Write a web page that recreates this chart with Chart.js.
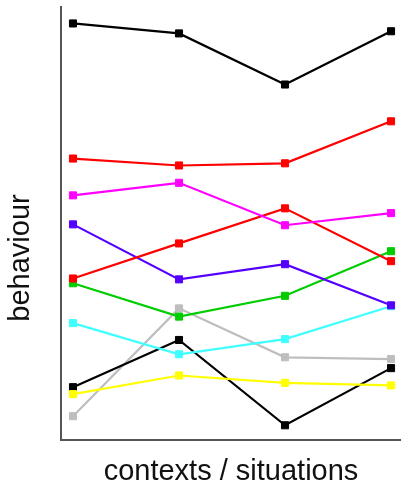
<!DOCTYPE html>
<html>
<head>
<meta charset="utf-8">
<script src="https://cdn.jsdelivr.net/npm/chart.js@4"></script>
<style>
  html, body { margin: 0; padding: 0; background: #fff; }
  #wrap { width: 401px; height: 486px; }
</style>
</head>
<body>
<div id="wrap"><canvas id="chart" width="401" height="486"></canvas></div>
<script>
// four contexts, no tick labels in the original
const contexts = [0, 1, 2, 3];

const blackTop   = [9.62, 9.39, 8.21, 9.44];
const redTop     = [6.50, 6.34, 6.39, 7.36];
const magenta    = [5.65, 5.94, 4.96, 5.24];
const redLow     = [3.73, 4.54, 5.35, 4.13];
const violet     = [4.98, 3.71, 4.06, 3.11];
const green      = [3.62, 2.85, 3.33, 4.36];
const cyan       = [2.70, 1.98, 2.33, 3.09];
const gray       = [0.55, 3.04, 1.91, 1.87];
const blackLow   = [1.22, 2.31, 0.34, 1.66];
const yellow     = [1.06, 1.49, 1.32, 1.26];

const series = [
  [blackTop, '#000000'],
  [redTop, '#ff0000'],
  [magenta, '#ff00ff'],
  [redLow, '#ff0000'],
  [violet, '#5500ff'],
  [green, '#00cd00'],
  [cyan, '#40ffff'],
  [yellow, '#ffff00'],
  [blackLow, '#000000'],
  [gray, '#bebebe']
];

const datasets = series.map(([vals, col]) => ({
  data: vals.map((v, i) => ({x: contexts[i], y: v})),
  borderColor: col,
  backgroundColor: col,
  borderWidth: 2.2,
  pointStyle: 'rect',
  pointRadius: 5,
  pointBorderWidth: 1,
  fill: false,
  tension: 0
}));

// axis titles drawn by hand so the y one can sit where the original has it
const titles = {
  id: 'titles',
  afterDraw(chart) {
    const ctx = chart.ctx;
    const a = chart.chartArea;
    ctx.save();
    ctx.fillStyle = '#111';
    ctx.font = '29px "Liberation Sans", Arial, sans-serif';
    ctx.textAlign = 'center';
    ctx.textBaseline = 'middle';
    ctx.fillText('contexts / situations', (a.left + a.right) / 2, 472);
    ctx.translate(21, 258);
    ctx.rotate(-Math.PI / 2);
    ctx.fillText('behaviour', 0, 0);
    ctx.restore();
  }
};

new Chart(document.getElementById('chart').getContext('2d'), {
  type: 'line',
  data: { datasets: datasets },
  options: {
    responsive: false,
    animation: false,
    layout: { autoPadding: false, padding: { left: 61, top: 7, right: 0, bottom: 46 } },
    plugins: { legend: { display: false }, tooltip: { enabled: false } },
    scales: {
      x: {
        type: 'linear', min: -0.113, max: 3.094,
        ticks: { display: false },
        grid: { display: false, drawTicks: false },
        border: { display: true, color: '#555', width: 2 }
      },
      y: {
        min: 0, max: 10,
        ticks: { display: false },
        grid: { display: false, drawTicks: false },
        border: { display: true, color: '#555', width: 2 }
      }
    }
  },
  plugins: [titles]
});
</script>
</body>
</html>
